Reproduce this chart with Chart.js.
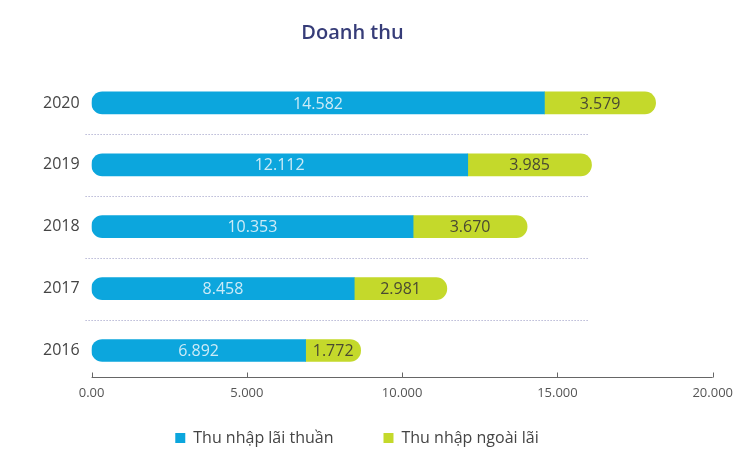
<!DOCTYPE html>
<html>
<head>
<meta charset="utf-8">
<script src="https://cdn.jsdelivr.net/npm/chart.js@4"></script>
<style>
  html, body { margin: 0; padding: 0; background: #fff; }
  #wrap { width: 737px; height: 451px; position: relative; }
  #title {
    position: absolute; left: 0; top: 18px; width: 705px; text-align: center;
    font: 600 20px "Open Sans", sans-serif; color: #363c78;
  }
</style>
</head>
<body>
<div id="wrap">
  <div id="title">Doanh thu</div>
  <canvas id="revenueChart"></canvas>
</div>
<script>
let years = ['2020', '2019', '2018', '2017', '2016'];
let netInterest = [14582, 12112, 10353, 8458, 6892];
let nonInterest = [3579, 3985, 3670, 2981, 1772];
let xTickLabels = ['0.00', '5.000', '10.000', '15.000', '20.000'];
let seriesNames = ['Thu nhập lãi thuần', 'Thu nhập ngoài lãi'];

const fmt = v => v.toLocaleString('de-DE');

// dotted separators between years + small upward ticks on the x axis
const decorations = {
    id: 'decorations',
    beforeInit(chart) {
        // keep the wide legend spacing without a tall legend box
        const legend = chart.legend;
        const fit = legend.fit;
        legend.fit = function () {
            fit.call(this);
            this.height = 46;
        };
    },
    afterLayout(chart) {
        const lg = chart.legend;
        lg.top -= 25;
        lg.left -= 32;
        lg.right -= 32;
    },
    beforeDatasetsDraw(chart) {
        const ctx = chart.ctx, x = chart.scales.x, y = chart.scales.y;
        ctx.save();
        ctx.strokeStyle = '#9696c2';
        ctx.lineWidth = 1;
        ctx.setLineDash([1, 2]);
        for (let i = 0; i < years.length - 1; i++) {
            const yy = Math.round((y.getPixelForValue(i) + y.getPixelForValue(i + 1)) / 2) + 0.5;
            ctx.beginPath();
            ctx.moveTo(x.left - 6, yy);
            ctx.lineTo(x.getPixelForValue(16000), yy);
            ctx.stroke();
        }
        ctx.setLineDash([]);
        ctx.strokeStyle = '#666';
        ctx.lineWidth = 1;
        const base = Math.round(chart.chartArea.bottom) - 3.5;
        ctx.beginPath();
        ctx.moveTo(x.left, base);
        ctx.lineTo(x.right, base);
        ctx.stroke();
        x.ticks.forEach(t => {
            const px = Math.round(x.getPixelForValue(t.value)) + 0.5;
            ctx.beginPath();
            ctx.moveTo(px, base);
            ctx.lineTo(px, base - 5);
            ctx.stroke();
        });
        ctx.restore();
    },
    afterDatasetsDraw(chart) {
        const ctx = chart.ctx;
        ctx.save();
        ctx.font = '16px "Open Sans", sans-serif';
        ctx.textAlign = 'center';
        ctx.textBaseline = 'middle';
        chart.data.datasets.forEach((ds, di) => {
            chart.getDatasetMeta(di).data.forEach((bar, i) => {
                const p = bar.getProps(['x', 'y', 'base'], true);
                ctx.fillStyle = di === 0 ? '#cdebf7' : '#4a4a32';
                ctx.fillText(fmt(ds.data[i]), (p.x + p.base) / 2, p.y + 1);
            });
        });
        ctx.restore();
    }
};

let ctx = document.getElementById('revenueChart').getContext('2d');

new Chart(ctx, {
    type: 'bar',
    data: {
        labels: years,
        datasets: [{
            label: seriesNames[0],
            data: netInterest,
            backgroundColor: '#0ca6dd',
            borderRadius: { topLeft: 11, bottomLeft: 11 },
            borderSkipped: false,
            barThickness: 22
        }, {
            label: seriesNames[1],
            data: nonInterest,
            backgroundColor: '#c4d92b',
            borderRadius: { topRight: 11, bottomRight: 11 },
            borderSkipped: false,
            barThickness: 22
        }]
    },
    options: {
        indexAxis: 'y',
        responsive: true,
        maintainAspectRatio: false,
        animation: false,
        layout: { padding: { top: 72, left: 31, right: -10, bottom: 0 } },
        scales: {
            x: {
                stacked: true,
                min: 0,
                max: 20000,
                grid: { display: false, drawTicks: false },
                border: { display: false },
                ticks: {
                    stepSize: 5000,
                    padding: 4,
                    color: '#555',
                    font: { family: '"Open Sans", sans-serif', size: 13 },
                    callback: (v, i) => xTickLabels[i]
                }
            },
            y: {
                stacked: true,
                grid: { display: false, drawTicks: false },
                border: { display: false },
                ticks: {
                    padding: 12,
                    color: '#444',
                    font: { family: '"Open Sans", sans-serif', size: 16 }
                }
            }
        },
        plugins: {
            legend: {
                position: 'bottom',
                labels: {
                    boxWidth: 10,
                    boxHeight: 10,
                    padding: 50,
                    color: '#444',
                    font: { family: '"Open Sans", sans-serif', size: 16 }
                }
            },
            tooltip: { enabled: false }
        }
    },
    plugins: [decorations]
});
</script>
</body>
</html>
